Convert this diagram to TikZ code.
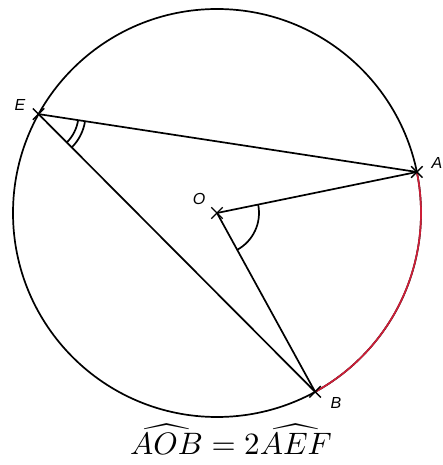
\documentclass[tikz,border=0pt]{standalone}
\usepackage{amsmath}
\usepackage{fontspec}
\newfontfamily\lblfont{Liberation Sans}
\usetikzlibrary{shapes.misc,angles}
\definecolor{arcred}{RGB}{205,30,55}
\begin{document}
\begin{tikzpicture}[x=1pt,y=1pt,line width=1.7pt,
  ptmark/.style={cross out,draw,minimum size=10pt,inner sep=0pt,line width=1.4pt},
  lbl/.style={font=\lblfont\itshape\fontsize{16}{18}\selectfont,inner sep=0pt}]
\useasboundingbox (0,0) rectangle (443,465);
\coordinate (O) at (217,252);
\coordinate (E) at ([shift={(O)}]151:204);
\coordinate (A) at ([shift={(O)}]11.6:204);
\coordinate (B) at ([shift={(O)}]-61.25:204);
\draw (O) circle (204);
\draw[arcred] (A) arc (11.6:-61.25:204);
\draw (E) -- (A);
\draw (E) -- (B);
\draw (O) -- (A);
\draw (O) -- (B);
\pic[draw,angle radius=42pt] {angle=B--O--A};
\pic[draw,angle radius=40pt] {angle=B--E--A};
\pic[draw,angle radius=47pt] {angle=B--E--A};
\node[ptmark] (mE) at (E) {};
\node[ptmark] (mA) at (A) {};
\node[ptmark] (mO) at (O) {};
\node[ptmark] (mB) at (B) {};
\node[lbl] (lE) at (20,360) {E};
\node[lbl] (lA) at (437,302) {A};
\node[lbl] (lO) at (199,266) {O};
\node[lbl] (lB) at (336,62) {B};
\node[anchor=base,inner sep=0pt,scale=3.1] (cap) at (231,10) {$\widehat{AOB} = 2\widehat{AEF}$};
\end{tikzpicture}
\end{document}
